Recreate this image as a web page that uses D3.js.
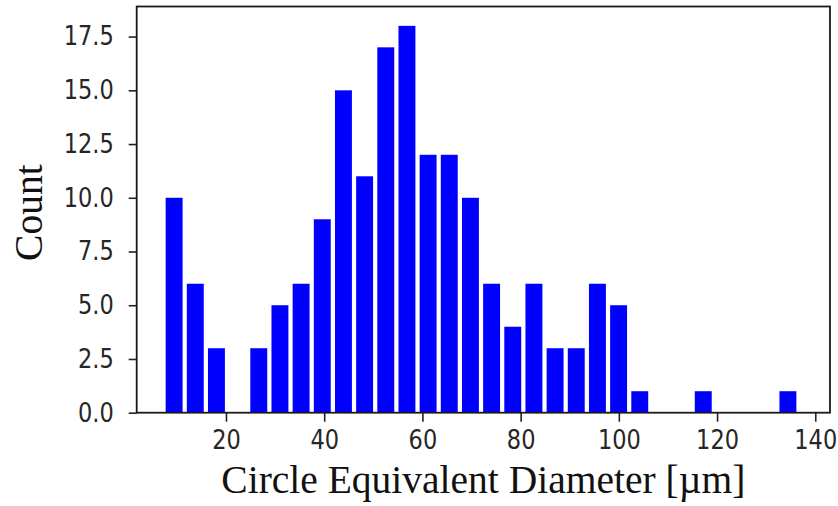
<!DOCTYPE html>
<html>
<head>
<meta charset="utf-8">
<script src="https://cdn.jsdelivr.net/npm/d3@7"></script>
<style>
  html, body { margin: 0; padding: 0; background: #fff; }
  svg { display: block; }
</style>
</head>
<body>
<svg id="chart" width="838" height="506"></svg>
<script>
// ---- data ----
const binStart = 7.5;          // left edge of first bin (µm)
const binWidth = 4.31;         // bin width (µm)
const counts = [10, 6, 3, 0, 3, 5, 6, 9, 15, 11, 17, 18, 12, 12, 10, 6, 4, 6, 3, 3, 6, 5, 1, 0, 0, 1, 0, 0, 0, 1];
const xTicks = [20, 40, 60, 80, 100, 120, 140];
const yTicks = [0, 2.5, 5, 7.5, 10, 12.5, 15, 17.5];
const xDomain = [1.82, 143];
const yDomain = [0, 18.9];
const xLabel = "Circle Equivalent Diameter [µm]";
const yLabel = "Count";

// ---- layout ----
const W = 838, H = 506;
const mLeft = 136.7, mRight = 830, mTop = 6.5, mBottom = 412.7;
const svg = d3.select("#chart");
svg.append("rect").attr("width", W).attr("height", H).attr("fill", "#fff");

const x = d3.scaleLinear().domain(xDomain).range([mLeft, mRight]);
const y = d3.scaleLinear().domain(yDomain).range([mBottom, mTop]);

const bins = counts.map((c, i) => ({ x0: binStart + i * binWidth, x1: binStart + (i + 1) * binWidth, count: c }));

// bars
svg.append("g").selectAll("rect")
  .data(bins.filter(d => d.count > 0))
  .join("rect")
  .attr("x", d => x(d.x0 + 0.05 * (d.x1 - d.x0)))
  .attr("width", d => x(d.x0 + 0.85 * (d.x1 - d.x0)) - x(d.x0 + 0.05 * (d.x1 - d.x0)))
  .attr("y", d => y(d.count))
  .attr("height", d => y(0) - y(d.count))
  .attr("fill", "#0000ff");

const tickFont = "'DejaVu Sans', sans-serif";
const squeeze = 0.865;

// x axis
const gx = svg.append("g").attr("transform", `translate(0,${mBottom})`)
  .call(d3.axisBottom(x).tickValues(xTicks).tickFormat(d3.format("d")).tickSize(9).tickPadding(9).tickSizeOuter(0));
gx.select(".domain").remove();
gx.selectAll(".tick line").attr("stroke", "#222").attr("stroke-width", 1.6);
gx.selectAll(".tick text")
  .attr("font-family", tickFont).attr("font-size", 26).attr("fill", "#262626")
  .attr("transform", `scale(${squeeze},1)`);

// y axis
const gy = svg.append("g").attr("transform", `translate(${mLeft},0)`)
  .call(d3.axisLeft(y).tickValues(yTicks).tickFormat(d3.format(".1f")).tickSize(8).tickPadding(15).tickSizeOuter(0));
gy.select(".domain").remove();
gy.selectAll(".tick line").attr("stroke", "#222").attr("stroke-width", 1.6);
gy.selectAll(".tick text")
  .attr("font-family", tickFont).attr("font-size", 26).attr("fill", "#262626")
  .each(function () {
    const xx = +this.getAttribute("x");
    d3.select(this).attr("x", 0).attr("transform", `translate(${xx},0) scale(${squeeze},1)`);
  });

// spines (box)
svg.append("rect")
  .attr("x", mLeft).attr("y", mTop)
  .attr("width", mRight - mLeft).attr("height", mBottom - mTop)
  .attr("fill", "none").attr("stroke", "#1a1a1a").attr("stroke-width", 1.8);

// axis labels
svg.append("text")
  .attr("x", (mLeft + mRight) / 2).attr("y", 493)
  .attr("text-anchor", "middle")
  .attr("font-family", "'Liberation Serif', 'Times New Roman', serif")
  .attr("font-size", 39.5).attr("fill", "#111")
  .text(xLabel);

svg.append("text")
  .attr("transform", `translate(41.5,${(mTop + mBottom) / 2 + 3}) rotate(-90)`)
  .attr("text-anchor", "middle")
  .attr("font-family", "'Liberation Serif', 'Times New Roman', serif")
  .attr("font-size", 39.5).attr("fill", "#111")
  .text(yLabel);
</script>
</body>
</html>
